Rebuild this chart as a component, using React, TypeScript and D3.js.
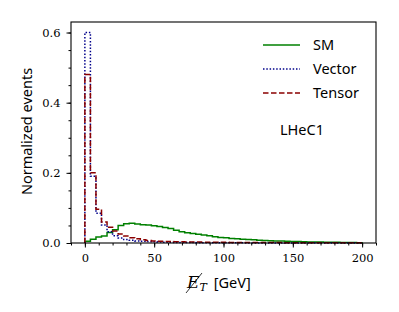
import React, { useEffect, useRef } from "react";
import * as d3 from "d3";

// bin edges 0..200 in steps of 4 GeV
const binEdges = d3.range(0, 201, 4);

const smValues = [
  0.005, 0.011, 0.017, 0.02, 0.03, 0.038, 0.05, 0.055, 0.056, 0.054,
  0.052, 0.051, 0.049, 0.047, 0.044, 0.041, 0.036, 0.032, 0.029, 0.027,
  0.025, 0.023, 0.021, 0.018, 0.016, 0.015, 0.013, 0.012, 0.011, 0.01,
  0.009, 0.008, 0.007, 0.0065, 0.006, 0.0055, 0.005, 0.0045, 0.004, 0.0035,
  0.003, 0.0028, 0.0025, 0.0022, 0.002, 0.0018, 0.0015, 0.0013, 0.0012, 0.001,
];

const vectorValues = [
  0.6, 0.19, 0.085, 0.051, 0.032, 0.021, 0.014, 0.01, 0.008, 0.006,
  0.005, 0.004, 0.0033, 0.0028, 0.0024, 0.002, 0.0017, 0.0015, 0.0013, 0.0011,
  0.001, 0.0009, 0.0008, 0.0007, 0.0006, 0.0005, 0.0005, 0.0004, 0.0004, 0.0003,
  0.0003, 0.0003, 0.0002, 0.0002, 0.0002, 0.0002, 0.0001, 0.0001, 0.0001, 0.0001,
  0.0001, 0.0001, 0.0001, 0.0001, 0.0001, 0.0001, 0.0001, 0.0001, 0.0001, 0.0001,
];

const tensorValues = [
  0.48, 0.2, 0.096, 0.06, 0.045, 0.034, 0.026, 0.02, 0.015, 0.012,
  0.009, 0.007, 0.006, 0.005, 0.0045, 0.004, 0.0036, 0.0033, 0.003, 0.0028,
  0.0026, 0.0024, 0.0022, 0.002, 0.0019, 0.0018, 0.0017, 0.0016, 0.0015, 0.0014,
  0.0013, 0.0013, 0.0012, 0.0012, 0.0011, 0.0011, 0.001, 0.001, 0.001, 0.0009,
  0.0009, 0.0009, 0.0008, 0.0008, 0.0008, 0.0007, 0.0007, 0.0007, 0.0007, 0.0006,
];

const series = [
  { name: "SM", values: smValues, color: "#008000", dash: null },
  { name: "Vector", values: vectorValues, color: "#00008b", dash: "1.5,1.8" },
  { name: "Tensor", values: tensorValues, color: "#8b0000", dash: "5.5,2.5" },
];

const xTicks = [0, 50, 100, 150, 200];
const yTicks = [0, 0.2, 0.4, 0.6];

const sans = "Noto Sans";
const serif = "DejaVu Serif";

const App = () => {
  const ref = useRef<SVGSVGElement>(null);

  useEffect(() => {
    const width = 399;
    const height = 312;
    const margin = { top: 22, right: 23, bottom: 69, left: 71 };

    const svg = d3.select(ref.current);
    svg.selectAll("*").remove();

    const xScale = d3
      .scaleLinear()
      .domain([-10, 210])
      .range([margin.left, width - margin.right]);

    const yScale = d3
      .scaleLinear()
      .domain([0, 0.63])
      .range([height - margin.bottom, margin.top]);

    const lineGen = d3
      .line<[number, number]>()
      .x((d) => xScale(d[0]))
      .y((d) => yScale(d[1]));

    // histograms (step style)
    series.forEach((s) => {
      const pts: [number, number][] = [[binEdges[0], 0]];
      s.values.forEach((v, i) => {
        pts.push([binEdges[i], v]);
        pts.push([binEdges[i + 1], v]);
      });
      pts.push([binEdges[binEdges.length - 1], 0]);
      svg
        .append("path")
        .attr("d", lineGen(pts))
        .attr("fill", "none")
        .attr("stroke", s.color)
        .attr("stroke-width", 1.5)
        .attr("stroke-dasharray", s.dash)
        .attr("stroke-linejoin", "miter");
    });

    // x axis (minor + major)
    svg
      .append("g")
      .attr("transform", `translate(0,${height - margin.bottom})`)
      .call(d3.axisBottom(xScale).tickValues(d3.range(-10, 211, 10)).tickSize(2.5).tickFormat(() => ""))
      .call((g) => g.select(".domain").remove());
    const xMajor = svg
      .append("g")
      .attr("transform", `translate(0,${height - margin.bottom})`)
      .call(d3.axisBottom(xScale).tickValues(xTicks).tickSize(4.5).tickPadding(6).tickFormat(d3.format("d")));
    xMajor.select(".domain").remove();
    xMajor
      .selectAll("text")
      .attr("font-family", serif)
      .attr("font-size", "11.5px")
      .attr("fill", "#000");

    // y axis (minor + major)
    svg
      .append("g")
      .attr("transform", `translate(${margin.left},0)`)
      .call(d3.axisLeft(yScale).tickValues(d3.range(0, 0.626, 0.05)).tickSize(2.5).tickFormat(() => ""))
      .call((g) => g.select(".domain").remove());
    const yMajor = svg
      .append("g")
      .attr("transform", `translate(${margin.left},0)`)
      .call(d3.axisLeft(yScale).tickValues(yTicks).tickSize(4.5).tickPadding(6).tickFormat(d3.format(".1f")));
    yMajor.select(".domain").remove();
    yMajor
      .selectAll("text")
      .attr("font-family", serif)
      .attr("font-size", "11.5px")
      .attr("fill", "#000");

    // frame
    svg
      .append("rect")
      .attr("x", margin.left)
      .attr("y", margin.top)
      .attr("width", width - margin.left - margin.right)
      .attr("height", height - margin.top - margin.bottom)
      .attr("fill", "none")
      .attr("stroke", "#000")
      .attr("stroke-width", 1.1);

    // legend
    const legend = svg.append("g").attr("font-family", sans).attr("font-size", "14.5px");
    series.forEach((s, i) => {
      const ly = 45 + i * 24;
      legend
        .append("line")
        .attr("x1", 263)
        .attr("x2", 300)
        .attr("y1", ly)
        .attr("y2", ly)
        .attr("stroke", s.color)
        .attr("stroke-width", 1.5)
        .attr("stroke-dasharray", s.dash);
      legend
        .append("text")
        .attr("x", 313)
        .attr("y", ly + 5)
        .text(s.name);
    });

    svg
      .append("text")
      .attr("x", 280)
      .attr("y", 135)
      .attr("font-family", sans)
      .attr("font-size", "14.5px")
      .text("LHeC1");

    // y label
    svg
      .append("text")
      .attr("transform", `translate(32,${(margin.top + height - margin.bottom) / 2 - 1}) rotate(-90)`)
      .attr("text-anchor", "middle")
      .attr("font-family", sans)
      .attr("font-size", "14.5px")
      .text("Normalized events");

    // x label: missing E_T [GeV]
    const xl = svg
      .append("text")
      .attr("x", 187)
      .attr("y", 288)
      .attr("font-size", "17px");
    xl.append("tspan").attr("font-family", serif).attr("font-style", "italic").text("E");
    xl.append("tspan")
      .attr("font-family", serif)
      .attr("font-style", "italic")
      .attr("font-size", "11px")
      .attr("dy", 3)
      .text("T");
    xl.append("tspan")
      .attr("font-family", sans)
      .attr("font-size", "14.5px")
      .attr("dy", -3)
      .attr("dx", 7)
      .text("[GeV]");
    svg
      .append("line")
      .attr("x1", 186)
      .attr("y1", 293)
      .attr("x2", 202)
      .attr("y2", 273)
      .attr("stroke", "#000")
      .attr("stroke-width", 0.8);
  }, []);

  return (
    <svg
      ref={ref}
      width={399}
      height={312}
      style={{ position: "absolute", left: 0, top: 0, background: "#fff" }}
    />
  );
};

export default App;
